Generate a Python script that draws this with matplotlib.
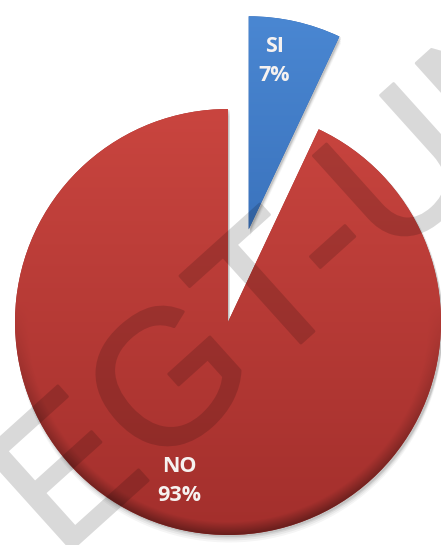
import numpy as np
import matplotlib.pyplot as plt
from matplotlib.patches import Wedge
import matplotlib.patheffects as pe

# datos
labels = ["SI", "NO"]
values = [7, 93]
pct_text = ["7%", "93%"]
col_top = ["#4a87d2", "#c9453f"]
col_bot = ["#2c60a9", "#a32f2c"]

R = 213
CENTER = (228, 223)
explode = [95, 0]
# posicion de etiquetas: fraccion del radio y giro respecto a la bisectriz
lab_r = [0.80, 0.78]
lab_shift = [4.0, -4.5]

fig = plt.figure(figsize=(4.41, 5.45), dpi=100)
ax = fig.add_axes([0, 0, 1, 1])

wedges, _ = ax.pie(values, startangle=90, counterclock=False, explode=explode,
                   radius=R, center=CENTER, colors=col_bot,
                   wedgeprops=dict(linewidth=0, zorder=1))


def hex2rgb(h):
    h = h.lstrip("#")
    return np.array([int(h[i:i + 2], 16) for i in (0, 2, 4)]) / 255.0


def fill_gradient(w, c_top, c_bot):
    cx, cy = w.center
    r = w.r
    n = 400
    xs = np.linspace(cx - r, cx + r, n)
    ys = np.linspace(cy + r, cy - r, n)
    X, Y = np.meshgrid(xs, ys)
    t = (cy + r - Y) / (2 * r)
    rgb = (1 - t)[..., None] * hex2rgb(c_top) + t[..., None] * hex2rgb(c_bot)
    d = np.hypot(X - cx, Y - cy) / r
    rim = np.clip((d - 0.94) / 0.06, 0, 1) * np.clip((cy - Y) / r + 0.1, 0, 1)
    rgb = rgb * (1 - 0.35 * rim)[..., None]
    im = ax.imshow(rgb, extent=(cx - r, cx + r, cy - r, cy + r), origin="upper",
                   zorder=2, interpolation="bilinear")
    im.set_clip_path(w)


for i, w in enumerate(wedges):
    cx, cy = w.center
    # sombra suave
    for k, a in [(7, 0.04), (5, 0.05), (3, 0.07), (1.5, 0.09)]:
        ax.add_patch(Wedge((cx + 1.5, cy - k), w.r + 0.5, w.theta1, w.theta2,
                           color="black", alpha=a, lw=0, zorder=0.5))
    fill_gradient(w, col_top[i], col_bot[i])

    ang = np.deg2rad((w.theta1 + w.theta2) / 2 + lab_shift[i])
    tx = cx + lab_r[i] * w.r * np.cos(ang)
    ty = cy + lab_r[i] * w.r * np.sin(ang)
    ax.text(tx, ty, f"{labels[i]}\n{pct_text[i]}", ha="center", va="center",
            fontsize=15.5, fontweight="bold", family="Open Sans", color="#f6f2f0",
            linespacing=1.5, zorder=4)


# marca de agua: texto opaco con trazo, luego se aplica la transparencia
def fade(img, dpi):
    img = img.copy()
    img[..., 3] *= 0.15
    return img, 0, 0


wm = ax.text(60, -15, "EGT-UN", rotation=42, rotation_mode="anchor", ha="left",
             va="baseline", fontsize=137, family="Liberation Sans",
             color="black", zorder=5,
             path_effects=[pe.withStroke(linewidth=2, foreground="black")])
wm.set_agg_filter(fade)

ax.set_xlim(0, 441)
ax.set_ylim(0, 545)
ax.set_aspect("auto")
ax.axis("off")

fig.savefig("out.png", dpi=100, facecolor="white")
